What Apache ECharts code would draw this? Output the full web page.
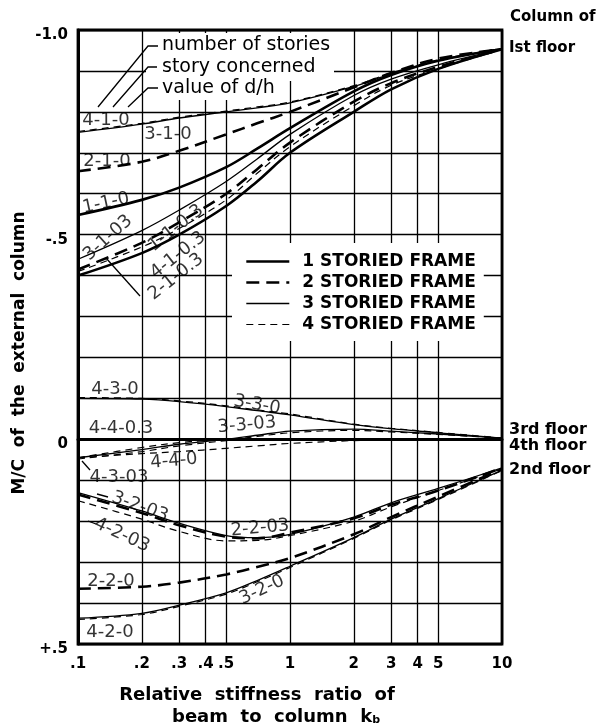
<!DOCTYPE html>
<html><head><meta charset="utf-8">
<script src="https://cdn.jsdelivr.net/npm/echarts@6/dist/echarts.min.js"></script>
<style>html,body{margin:0;padding:0;background:#fff}#c{width:609px;height:727px}</style>
</head><body><div id="c"></div>
<script>
// ---- axis ticks ----
const xTicks = [0.1, 0.2, 0.3, 0.4, 0.5, 1, 2, 3, 4, 5, 10];
const xTickText = ['.1', '.2', '.3', '.4', '.5', '1', '2', '3', '4', '5', '10'];
const yTickValues = [-1, -0.5, 0, 0.5];
const yTickText = ['-1.0', '-.5', '0', '+.5'];

// ---- k_b sample points shared by every curve ----
const kb = [0.1, 0.2, 0.3, 0.5, 0.7, 1, 2, 3, 5, 10];

// ---- 1 storied frame ----
const c1_1_0   = [-0.548, -0.585, -0.615, -0.665, -0.710, -0.760, -0.850, -0.890, -0.925, -0.953];
const c1_1_03  = [-0.400, -0.455, -0.500, -0.570, -0.630, -0.700, -0.800, -0.855, -0.905, -0.953];
// ---- 2 storied frame ----
const c2_1_0   = [-0.655, -0.678, -0.705, -0.745, -0.772, -0.800, -0.860, -0.895, -0.930, -0.953];
const c2_1_03  = [-0.415, -0.480, -0.530, -0.600, -0.660, -0.725, -0.825, -0.870, -0.910, -0.953];
const c2_2_03  = [0.135, 0.180, 0.210, 0.238, 0.242, 0.228, 0.193, 0.160, 0.125, 0.070];
const c2_2_0   = [0.365, 0.360, 0.350, 0.330, 0.312, 0.290, 0.232, 0.190, 0.140, 0.073];
// ---- 3 storied frame ----
const c3_1_0   = [-0.750, -0.770, -0.785, -0.800, -0.810, -0.822, -0.862, -0.893, -0.925, -0.955];
const c3_1_03  = [-0.440, -0.510, -0.560, -0.630, -0.685, -0.745, -0.840, -0.880, -0.915, -0.953];
const c3_3_0   = [-0.100, -0.098, -0.092, -0.080, -0.070, -0.060, -0.036, -0.026, -0.016, -0.003];
const c3_3_03  = [0.045, 0.025, 0.012, 0.000, -0.010, -0.020, -0.025, -0.020, -0.013, -0.003];
const c3_2_03  = [0.130, 0.175, 0.205, 0.235, 0.240, 0.232, 0.190, 0.155, 0.120, 0.070];
const c3_2_0   = [0.437, 0.425, 0.405, 0.375, 0.345, 0.310, 0.240, 0.195, 0.145, 0.075];
// ---- 4 storied frame ----
const c4_1_0   = [-0.752, -0.772, -0.787, -0.802, -0.812, -0.824, -0.864, -0.895, -0.927, -0.955];
const c4_1_03  = [-0.410, -0.470, -0.515, -0.585, -0.650, -0.715, -0.815, -0.865, -0.905, -0.952];
const c4_3_0   = [-0.102, -0.100, -0.094, -0.082, -0.072, -0.062, -0.037, -0.027, -0.017, -0.003];
const c4_4_0   = [0.045, 0.035, 0.030, 0.022, 0.016, 0.010, 0.003, 0.001, 0.000, 0.000];
const c4_4_03  = [0.045, 0.020, 0.008, 0.000, -0.001, -0.002, -0.002, -0.001, -0.001, 0.000];
const c4_3_03  = [0.048, 0.030, 0.016, 0.003, -0.007, -0.016, -0.022, -0.018, -0.012, -0.003];
const c4_2_03  = [0.150, 0.195, 0.225, 0.248, 0.247, 0.235, 0.200, 0.165, 0.125, 0.072];
const c4_2_0   = [0.440, 0.428, 0.408, 0.378, 0.348, 0.313, 0.242, 0.197, 0.147, 0.076];

const frames = ['1 STORIED FRAME', '2 STORIED FRAME', '3 STORIED FRAME', '4 STORIED FRAME'];
const curveFrame = [0, 0, 1, 1, 1, 1, 2, 2, 2, 2, 2, 2, 3, 3, 3, 3, 3, 3, 3, 3];
const curveValues = [c1_1_0, c1_1_03, c2_1_0, c2_1_03, c2_2_03, c2_2_0,
  c3_1_0, c3_1_03, c3_3_0, c3_3_03, c3_2_03, c3_2_0,
  c4_1_0, c4_1_03, c4_3_0, c4_4_0, c4_4_03, c4_3_03, c4_2_03, c4_2_0];

// ---- curve labels: text, k_b, M/C, rotation ----
const labelText = ['4-1-0', '3-1-0', '2-1-0', '1-1-0', '3-1-03', '1-1-0.3', '4-1-0.3', '2-1-0.3',
  '4-3-0', '3-3-0', '4-4-0.3', '3-3-03', '4-4-0', '4-3-03', '3-2-03', '4-2-03', '2-2-03', '2-2-0', '3-2-0', '4-2-0'];
const labelX = [0.1355, 0.2658, 0.137, 0.1355, 0.1385, 0.29, 0.2962, 0.29,
  0.1495, 0.699, 0.1596, 0.6266, 0.2838, 0.156, 0.196, 0.1612, 0.7222, 0.1431, 0.738, 0.1416];
const labelY = [-0.780, -0.746, -0.678, -0.577, -0.492, -0.516, -0.450, -0.397,
  -0.123, -0.084, -0.028, -0.035, 0.053, 0.094, 0.165, 0.234, 0.217, 0.346, 0.368, 0.471];
const labelRot = [0, 0, 0, 12, 42, 38, 38, 38, 0, -10, 0, 5, 5, 0, -20, -25, 5, 0, 25, 0];

const FONT = 'DejaVu Sans';
const frameStyle = [
  { width: 2.6, type: 'solid' },
  { width: 2.6, type: [13, 7] },
  { width: 1.3, type: 'solid' },
  { width: 1.2, type: [7, 5] }
];

const series = curveValues.map((ys, i) => ({
  type: 'line',
  name: frames[curveFrame[i]],
  data: kb.map((x, j) => [x, ys[j]]),
  smooth: 0.35,
  symbol: 'none',
  showSymbol: false,
  silent: true,
  itemStyle: { color: '#000' },
  lineStyle: { color: '#000', width: frameStyle[curveFrame[i]].width, type: frameStyle[curveFrame[i]].type },
  z: 3
}));

series.push({
  type: 'scatter',
  name: 'labels',
  silent: true,
  symbolSize: 0,
  z: 5,
  data: labelText.map((t, i) => ({
    value: [labelX[i], labelY[i]],
    label: { show: true, position: 'inside', formatter: t, rotate: labelRot[i],
      color: '#000', fontSize: 18, fontFamily: FONT }
  }))
});

const boldTxt = { fill: '#000', fontFamily: FONT, fontWeight: 'bold' };
function txt(x, y, text, size, extra) {
  return Object.assign({ type: 'text', x: x, y: y, z: 6,
    style: Object.assign({ text: text, fontSize: size, textVerticalAlign: 'middle' }, boldTxt) }, extra || {});
}
function leader(points) {
  return { type: 'polyline', z: 6, shape: { points: points }, style: { stroke: '#000', lineWidth: 1.3, fill: null } };
}

const graphic = [
  { type: 'rect', z: 1, shape: { x: 146, y: 33, width: 188, height: 48 }, style: { fill: '#fff' } },
  { type: 'rect', z: 1, shape: { x: 146, y: 80, width: 142, height: 20 }, style: { fill: '#fff' } },
  { type: 'text', x: 162, y: 45, z: 6, style: { text: 'number of stories', fontSize: 19, fontFamily: FONT, fill: '#000', textVerticalAlign: 'middle' } },
  { type: 'text', x: 162, y: 67, z: 6, style: { text: 'story concerned', fontSize: 19, fontFamily: FONT, fill: '#000', textVerticalAlign: 'middle' } },
  { type: 'text', x: 162, y: 88, z: 6, style: { text: 'value of d/h', fontSize: 19, fontFamily: FONT, fill: '#000', textVerticalAlign: 'middle' } },
  leader([[98, 107], [148, 46], [158, 46]]),
  leader([[113, 107], [148, 67], [157, 67]]),
  leader([[128, 107], [148, 88], [158, 88]]),
  leader([[106, 258], [140, 296]]),
  leader([[82, 461], [90, 470]]),
  leader([[108, 497], [97, 494]]),
  leader([[96, 524], [88, 521]]),
  txt(510, 17, 'Column of', 15),
  txt(509, 48, 'Ist floor', 15),
  txt(509, 430, '3rd floor', 16),
  txt(509, 446, '4th floor', 16),
  txt(509, 470, '2nd floor', 16),
  { type: 'text', x: 20, y: 353, rotation: Math.PI / 2, z: 6,
    style: Object.assign({ text: 'M/C  of  the  external  column', fontSize: 17, textAlign: 'center', textVerticalAlign: 'middle' }, boldTxt) },
  { type: 'text', x: 257, y: 695, z: 6,
    style: Object.assign({ text: 'Relative  stiffness  ratio  of', fontSize: 18, textAlign: 'center', textVerticalAlign: 'middle' }, boldTxt) },
  { type: 'text', x: 276, y: 717, z: 6,
    style: Object.assign({ text: 'beam  to  column  k{s|b}', fontSize: 18, textAlign: 'center', textVerticalAlign: 'middle',
      rich: { s: { fontSize: 11, fontWeight: 'bold', fontFamily: FONT, padding: [7, 0, 0, 0] } } }, boldTxt) }
];

const chart = echarts.init(document.getElementById('c'), null, { renderer: 'canvas' });
chart.setOption({
  animation: false,
  backgroundColor: '#fff',
  grid: { left: 78, right: 107, top: 30, bottom: 83, show: true, borderColor: '#000', borderWidth: 2.8, backgroundColor: 'transparent' },
  xAxis: {
    type: 'log', logBase: 10, min: 0.1, max: 10,
    axisLine: { show: true, lineStyle: { color: '#000', width: 3 } },
    axisTick: { show: false, customValues: xTicks },
    axisLabel: {
      customValues: xTicks, color: '#000', fontFamily: FONT, fontWeight: 'bold', fontSize: 15, margin: 13,
      formatter: v => { const i = xTicks.findIndex(t => Math.abs(t - v) / t < 1e-6); return i >= 0 ? xTickText[i] : ''; }
    },
    splitLine: { show: true, lineStyle: { color: '#000', width: 1.3 } }
  },
  yAxis: {
    type: 'value', inverse: true, min: -1, max: 0.5, interval: 0.1,
    axisLine: { show: true, lineStyle: { color: '#000', width: 3 } },
    axisTick: { show: false },
    axisLabel: {
      color: '#000', fontFamily: FONT, fontWeight: 'bold', fontSize: 15, margin: 10,
      verticalAlign: 'top', lineHeight: 10,
      formatter: v => { const i = yTickValues.findIndex(t => Math.abs(t - v) < 1e-6); return i >= 0 ? yTickText[i] : ''; }
    },
    splitLine: { show: true, lineStyle: { color: '#000', width: 1.3 } }
  },
  legend: {
    data: frames.map((f, i) => ({ name: f, itemStyle: { opacity: 0 },
      lineStyle: { width: frameStyle[i].width, type: frameStyle[i].type, color: '#000' } })),
    orient: 'vertical', left: 232, top: 243, itemWidth: 43, itemHeight: 14, itemGap: 4,
    padding: [10, 8, 8, 13], backgroundColor: '#fff', selectedMode: false, z: 4,
    textStyle: { color: '#000', fontFamily: FONT, fontWeight: 'bold', fontSize: 17, lineHeight: 17, padding: [0, 0, 0, 8] }
  },
  graphic: graphic,
  series: series
});
</script></body></html>
